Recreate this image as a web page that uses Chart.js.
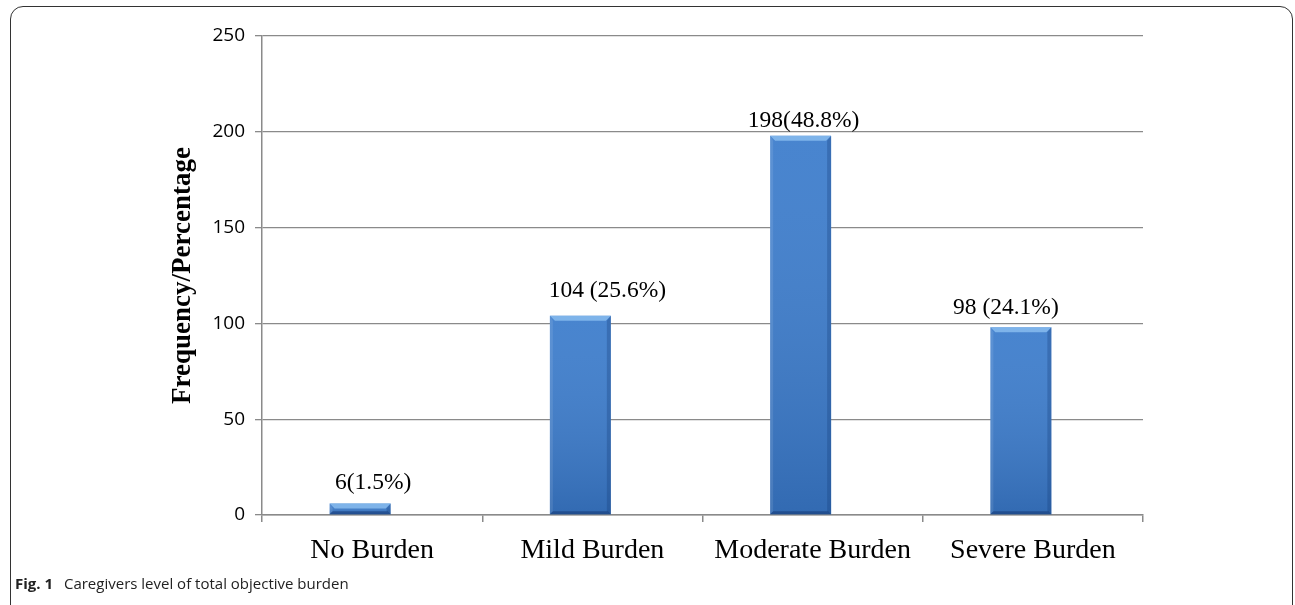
<!DOCTYPE html>
<html>
<head>
<meta charset="utf-8">
<script src="https://cdn.jsdelivr.net/npm/chart.js@4.4.1/dist/chart.umd.min.js"></script>
<style>
  html, body { margin: 0; padding: 0; background: #fff; }
  #wrap { position: relative; width: 1295px; height: 605px; overflow: hidden; }
  #frame {
    position: absolute; left: 10px; top: 6px; width: 1283px; height: 620px;
    border: 1.3px solid #333; border-radius: 13px; box-sizing: border-box;
  }
  #caption {
    position: absolute; left: 15px; top: 573px;
    font-family: "Open Sans", sans-serif; font-size: 15px; color: #222;
  }
  #caption b { font-weight: 700; margin-right: 7px; }
  canvas { position: absolute; left: 0; top: 0; }
</style>
</head>
<body>
<div id="wrap">
  <div id="frame"></div>
  <canvas id="chartCanvas" width="1295" height="605"></canvas>
  <div id="caption"><b>Fig. 1</b> Caregivers level of total objective burden</div>
</div>
<script>
// data
const categories = ['No Burden', 'Mild Burden', 'Moderate Burden', 'Severe Burden'];
const frequency = [6, 104, 198, 98];
const barLabels = ['6(1.5%)', '104 (25.6%)', '198(48.8%)', '98 (24.1%)'];
const yTicks = [0, 50, 100, 150, 200, 250];
// the original has an empty second series, which pushes the bars left of centre
const emptySeries = [null, null, null, null];

const gridColor = '#8a8a8a';

// bevelled look of the bars, drawn on top of each bar element
const bevelPlugin = {
    id: 'bevel',
    afterDatasetDraw(chart, args) {
        if (args.index !== 0) return;
        const ctx = chart.ctx;
        args.meta.data.forEach((bar) => {
            const l = bar.x - bar.width / 2;
            const r = bar.x + bar.width / 2;
            const t = bar.y;
            const b = bar.base;
            const h = b - t;
            const bv = Math.min(5, h / 2);
            ctx.save();
            // body shading, lighter at top, darker at bottom
            const g = ctx.createLinearGradient(0, t, 0, b);
            g.addColorStop(0, 'rgba(255,255,255,0.06)');
            g.addColorStop(1, 'rgba(0,20,60,0.18)');
            ctx.fillStyle = g;
            ctx.fillRect(l, t, r - l, h);
            // top bevel (light)
            ctx.fillStyle = 'rgba(150,200,245,0.7)';
            ctx.beginPath();
            ctx.moveTo(l, t); ctx.lineTo(r, t); ctx.lineTo(r - bv, t + bv); ctx.lineTo(l + bv, t + bv);
            ctx.closePath(); ctx.fill();
            // left bevel
            ctx.fillStyle = 'rgba(255,255,255,0.10)';
            ctx.beginPath();
            ctx.moveTo(l, t); ctx.lineTo(l + 3, t + bv); ctx.lineTo(l + 3, b - 3); ctx.lineTo(l, b);
            ctx.closePath(); ctx.fill();
            // right bevel
            ctx.fillStyle = 'rgba(20,60,120,0.30)';
            ctx.beginPath();
            ctx.moveTo(r, t); ctx.lineTo(r - 4, t + bv); ctx.lineTo(r - 4, b - 3); ctx.lineTo(r, b);
            ctx.closePath(); ctx.fill();
            // bottom bevel (dark)
            ctx.fillStyle = 'rgba(20,55,115,0.55)';
            ctx.beginPath();
            ctx.moveTo(l, b); ctx.lineTo(r, b); ctx.lineTo(r - 3, b - 3); ctx.lineTo(l + 3, b - 3);
            ctx.closePath(); ctx.fill();
            ctx.restore();
        });
    }
};

// value labels above the bars; the original places them by hand, a little off centre
const labelNudge = [[13, -11], [27, -15], [3, -5], [-15, -10]];
const labelPlugin = {
    id: 'barLabels',
    afterDatasetsDraw(chart) {
        const ctx = chart.ctx;
        const meta = chart.getDatasetMeta(0);
        ctx.save();
        ctx.font = '23.5px "Liberation Serif", "Times New Roman", serif';
        ctx.fillStyle = '#000';
        ctx.textAlign = 'center';
        ctx.textBaseline = 'bottom';
        meta.data.forEach((bar, i) => {
            ctx.fillText(barLabels[i], bar.x + labelNudge[i][0], bar.y + labelNudge[i][1] + 2);
        });
        ctx.restore();
    }
};

let chart = new Chart('chartCanvas', {
    type: 'bar',
    data: {
        labels: categories,
        datasets: [{
            data: frequency,
            backgroundColor: '#3d7dcc',
            borderWidth: 0
        }, {
            data: emptySeries,
            backgroundColor: 'transparent'
        }]
    },
    options: {
        responsive: false,
        animation: false,
        events: [],
        datasets: {
            bar: { categoryPercentage: 0.218, barPercentage: 2.54 }
        },
        layout: { padding: { top: 36, right: 152, left: 0, bottom: 0 } },
        plugins: {
            legend: { display: false },
            tooltip: { enabled: false }
        },
        scales: {
            x: {
                grid: {
                    offset: true,
                    drawOnChartArea: false,
                    color: gridColor,
                    tickLength: 7,
                    lineWidth: 1.5
                },
                border: { color: gridColor, width: 1.5 },
                ticks: {
                    color: '#000',
                    padding: 12,
                    maxRotation: 0,
                    font: { family: '"Liberation Serif", "Times New Roman", serif', size: 28 }
                },
                afterFit: (scale) => { scale.height = 90; }
            },
            y: {
                min: 0,
                max: 250,
                afterBuildTicks: (scale) => { scale.ticks = yTicks.map(v => ({ value: v })); },
                grid: { color: gridColor, tickLength: 7, lineWidth: 1.3 },
                border: { color: gridColor, width: 1.5 },
                ticks: {
                    color: '#000',
                    padding: 10,
                    font: { family: '"Open Sans", sans-serif', size: 19 }
                },
                title: {
                    display: true,
                    text: 'Frequency/Percentage',
                    color: '#000',
                    padding: { top: 167, bottom: 0 },
                    font: { family: '"Liberation Serif", "Times New Roman", serif', size: 27, weight: 'bold' }
                },
                afterFit: (scale) => { scale.width = 262; }
            }
        }
    },
    plugins: [bevelPlugin, labelPlugin]
});
</script>
</body>
</html>
